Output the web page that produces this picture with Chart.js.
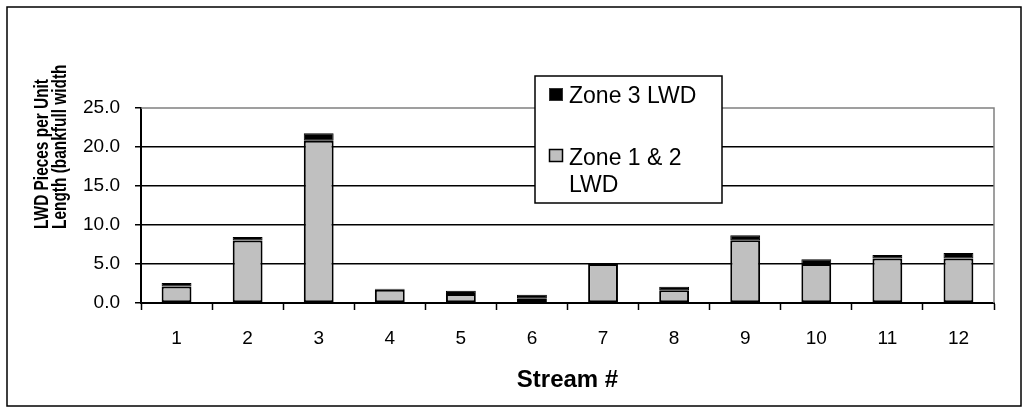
<!DOCTYPE html>
<html>
<head>
<meta charset="utf-8">
<script src="https://cdn.jsdelivr.net/npm/chart.js@4/dist/chart.umd.min.js"></script>
<style>
  html, body { margin: 0; padding: 0; background: #fff; }
  #wrap { width: 1029px; height: 414px; }
</style>
</head>
<body>
<div id="wrap"><canvas id="c" width="1029" height="414"></canvas></div>
<script>
// Stream numbers along the x axis
const streams = ['1', '2', '3', '4', '5', '6', '7', '8', '9', '10', '11', '12'];
// LWD pieces per unit length (bankfull width), by riparian zone
const zone12LWD = [2.1, 8.0, 20.8, 1.7, 1.15, 0.6, 5.0, 1.65, 8.05, 5.0, 5.7, 5.7];
const zone3LWD  = [0.45, 0.45, 0.95, 0.12, 0.42, 0.45, 0.0, 0.42, 0.65, 0.6, 0.45, 0.72];
// Value axis ticks
const yTicks = [0, 5, 10, 15, 20, 25];

const seriesNames = ['Zone 1 & 2 LWD', 'Zone 3 LWD'];
const yTitleLines = ['LWD Pieces per Unit', 'Length (bankfull width)'];
const xTitle = 'Stream #';

const FONT = '"Liberation Sans", Arial, Helvetica, sans-serif';

// Frame, plot border, axis titles and the boxed legend
const decorations = {
  id: 'decorations',
  beforeDraw(chart) {
    const ctx = chart.ctx;
    ctx.save();
    ctx.fillStyle = '#fff';
    ctx.fillRect(0, 0, chart.width, chart.height);
    ctx.restore();
  },
  afterDraw(chart) {
    const ctx = chart.ctx;
    const a = chart.chartArea;
    ctx.save();

    // grey plot border on top and right
    ctx.strokeStyle = '#808080';
    ctx.lineWidth = 1.5;
    ctx.beginPath();
    ctx.moveTo(a.left, a.top);
    ctx.lineTo(a.right, a.top);
    ctx.lineTo(a.right, a.bottom);
    ctx.stroke();

    // outer frame
    ctx.strokeStyle = '#000';
    ctx.lineWidth = 1.5;
    ctx.strokeRect(7, 7, 1014, 399);

    // x axis title
    ctx.fillStyle = '#000';
    ctx.font = 'bold 24px ' + FONT;
    ctx.textAlign = 'center';
    ctx.textBaseline = 'alphabetic';
    ctx.fillText(xTitle, (a.left + a.right) / 2, 387);

    // y axis title: two rotated, slightly condensed lines, clipped at the top of their box
    ctx.save();
    ctx.beginPath();
    ctx.rect(0, 65, 140, 300);
    ctx.clip();
    ctx.font = 'bold 20px ' + FONT;
    ctx.textAlign = 'left';
    ctx.textBaseline = 'alphabetic';
    const squeeze = 150 / ctx.measureText(yTitleLines[0]).width;
    const baseX = [48, 66];
    yTitleLines.forEach((line, i) => {
      ctx.save();
      ctx.translate(baseX[i], 229);
      ctx.rotate(-Math.PI / 2);
      ctx.scale(squeeze, 1);
      ctx.fillText(line, 0, 0);
      ctx.restore();
    });
    ctx.restore();

    // legend box
    const lx = 535, ly = 76, lw = 187, lh = 127;
    ctx.fillStyle = '#fff';
    ctx.fillRect(lx, ly, lw, lh);
    ctx.strokeStyle = '#000';
    ctx.lineWidth = 1.5;
    ctx.strokeRect(lx, ly, lw, lh);

    const ds = chart.data.datasets;
    // Zone 3 entry
    ctx.fillStyle = ds[1].backgroundColor;
    ctx.fillRect(549, 88, 13, 12);
    ctx.strokeStyle = '#333';
    ctx.lineWidth = 1;
    ctx.strokeRect(549.5, 88.5, 13, 12);
    // Zone 1 & 2 entry
    ctx.fillStyle = ds[0].backgroundColor;
    ctx.fillRect(549, 149, 13, 13);
    ctx.strokeStyle = '#000';
    ctx.lineWidth = 1.5;
    ctx.strokeRect(549.5, 149.5, 13, 12);

    ctx.fillStyle = '#000';
    ctx.font = '23px ' + FONT;
    ctx.textAlign = 'left';
    ctx.textBaseline = 'alphabetic';
    ctx.fillText(ds[1].label, 569, 103);
    ctx.fillText('Zone 1 & 2', 569, 165);
    ctx.fillText('LWD', 569, 192);

    ctx.restore();
  }
};

new Chart(document.getElementById('c'), {
  type: 'bar',
  data: {
    labels: streams,
    datasets: [
      {
        label: seriesNames[0],
        data: zone12LWD,
        backgroundColor: '#c0c0c0',
        borderColor: '#000',
        borderWidth: 2,
        borderSkipped: false
      },
      {
        label: 'Zone 3 LWD',
        data: zone3LWD,
        backgroundColor: '#000',
        borderColor: '#000',
        borderWidth: 1,
        borderSkipped: false
      }
    ]
  },
  options: {
    responsive: false,
    animation: false,
    devicePixelRatio: 1,
    layout: { padding: { left: 0, top: 108, right: 35, bottom: 0 } },
    datasets: {
      bar: { categoryPercentage: 1.0, barPercentage: 0.42 }
    },
    plugins: {
      legend: { display: false },
      tooltip: { enabled: false }
    },
    scales: {
      x: {
        stacked: true,
        afterFit(scale) { scale.height = 111; },
        grid: {
          offset: true,
          drawOnChartArea: false,
          drawTicks: true,
          tickLength: 7,
          tickColor: '#000',
          tickWidth: 1.5
        },
        border: { display: true, color: '#000', width: 2 },
        ticks: {
          color: '#000',
          font: { family: FONT, size: 19 },
          padding: 17,
          maxRotation: 0
        }
      },
      y: {
        stacked: true,
        min: yTicks[0],
        max: yTicks[yTicks.length - 1],
        afterFit(scale) { scale.width = 141; },
        afterBuildTicks(scale) { scale.ticks = yTicks.map(v => ({ value: v })); },
        grid: {
          color: (c) => (c.tick && c.tick.value === 25 ? 'rgba(0,0,0,0)' : '#000'),
          lineWidth: 1.5,
          drawTicks: true,
          tickLength: 6,
          tickColor: '#000',
          tickWidth: 1.5
        },
        border: { display: true, color: '#000', width: 2 },
        ticks: {
          color: '#000',
          font: { family: FONT, size: 19 },
          padding: 15,
          callback: (v) => Number(v).toFixed(1)
        }
      }
    }
  },
  plugins: [decorations]
});
</script>
</body>
</html>
